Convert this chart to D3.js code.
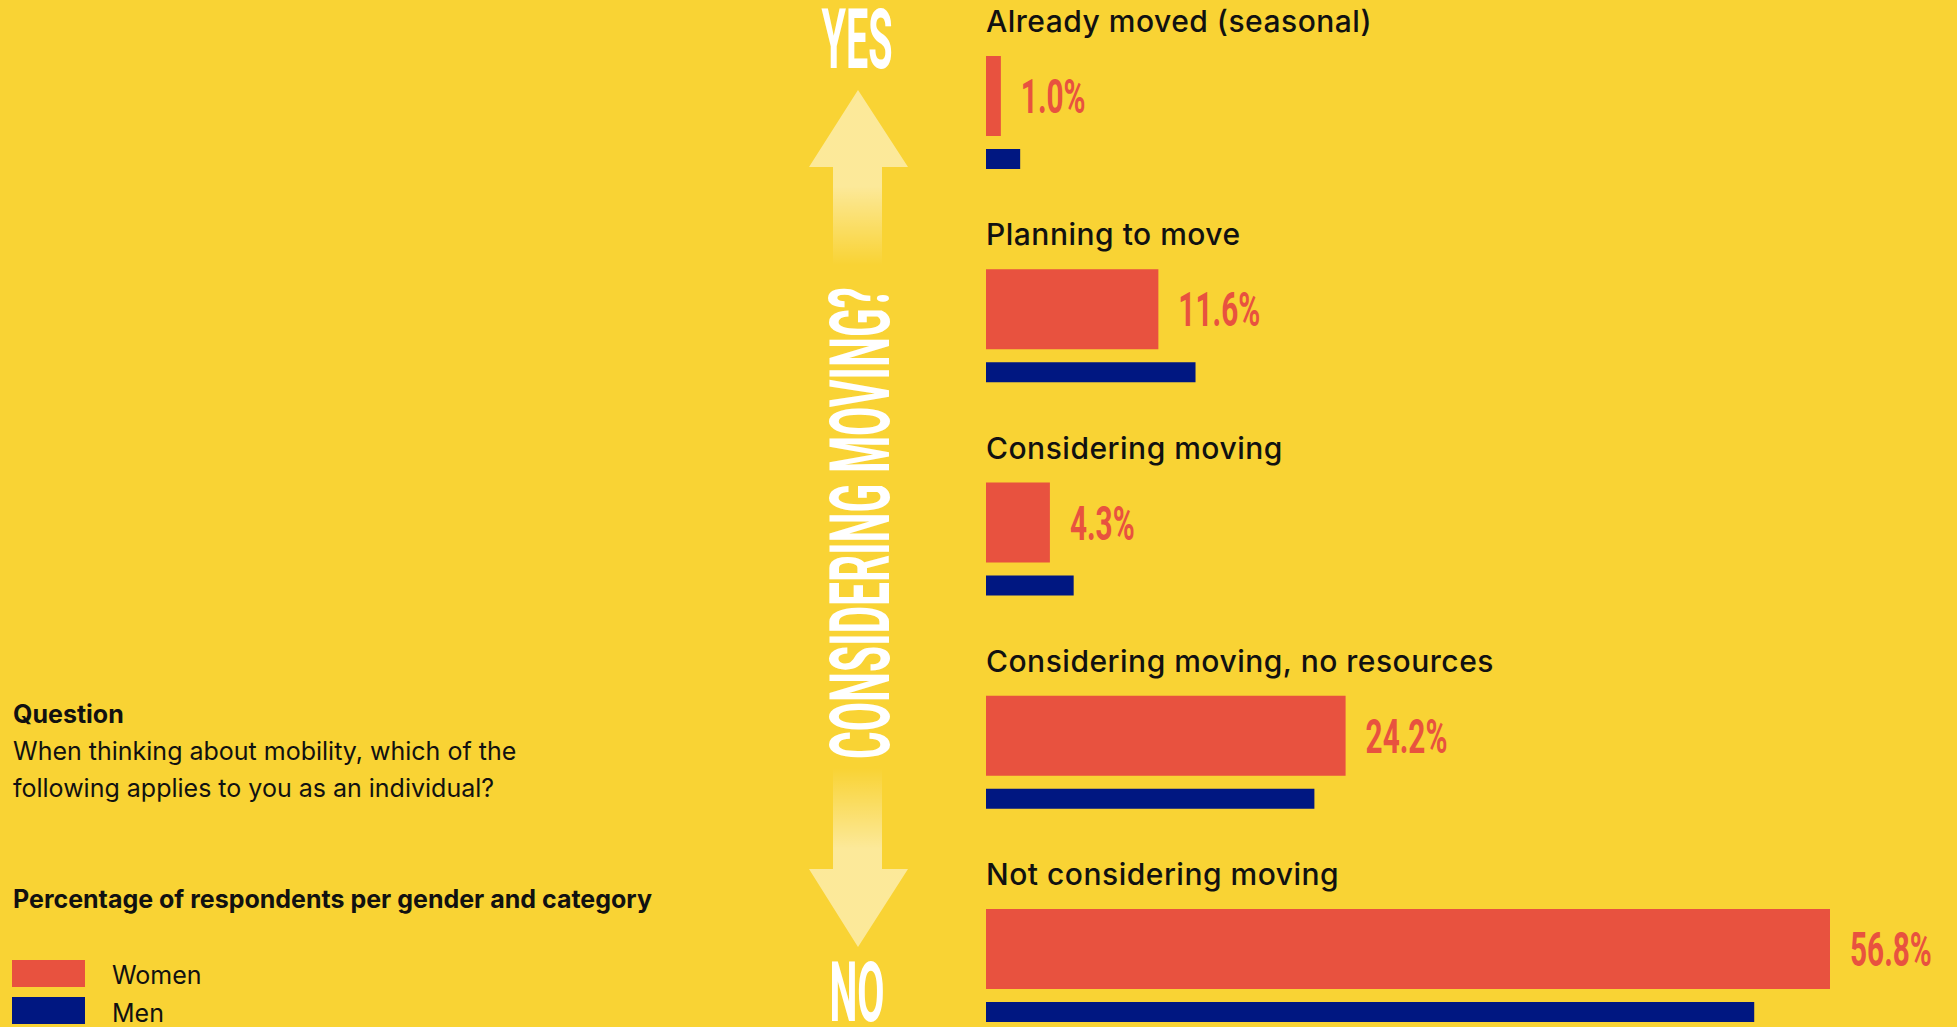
<!DOCTYPE html>
<html lang="en">
<head>
    <meta charset="UTF-8">
    <title>Considering moving?</title>
    <script src="https://d3js.org/d3.v7.min.js"></script>
    <style>
        body {
            margin: 0;
            background: #F9D334;
            font-family: Inter, "Noto Sans", sans-serif;
        }
        svg { display: block; }
        .cat { font-size: 30px; font-weight: 500; letter-spacing: 0.5px; fill: #111; }
        .val { font-family: Roboto, sans-serif; font-weight: 700; font-size: 48px; fill: #E8523F; }
        .big { font-family: Roboto, sans-serif; font-weight: 700; font-size: 84px; fill: #fff; }
        .note { font-size: 25px; fill: #111; }
    </style>
</head>
<body>
    <div id="container"></div>

    <script>
        //data
        const categories = ['Already moved (seasonal)', 'Planning to move', 'Considering moving',
            'Considering moving, no resources', 'Not considering moving'];
        const women = [1.0, 11.6, 4.3, 24.2, 56.8];
        const men = [2.3, 14.1, 5.9, 22.1, 51.7];
        const series = ['Women', 'Men'];
        const colors = ['#E8523F', '#001781'];
        const questionLines = ['When thinking about mobility, which of the',
            'following applies to you as an individual?'];

        const W = 1957, H = 1027;
        const svg = d3.select('#container').append('svg')
            .attr('width', W).attr('height', H);

        // scales
        const x = d3.scaleLinear().domain([0, 56.8]).range([986, 1830]);
        const y = d3.scaleBand().domain(categories).range([56, 56 + 5 * 213.25]);
        const color = d3.scaleOrdinal().domain(series).range(colors);

        const rows = categories.map((c, i) => ({cat: c, women: women[i], men: men[i]}));

        const g = svg.selectAll('g.row')
            .data(rows)
            .enter().append('g').attr('class', 'row');

        g.append('text').attr('class', 'cat')
            .attr('x', x(0)).attr('y', d => y(d.cat) - 24)
            .text(d => d.cat);

        g.append('rect')
            .attr('x', x(0)).attr('y', d => y(d.cat))
            .attr('width', d => x(d.women) - x(0)).attr('height', 80)
            .attr('fill', color('Women'));

        g.append('rect')
            .attr('x', x(0)).attr('y', d => y(d.cat) + 93)
            .attr('width', d => x(d.men) - x(0)).attr('height', 20)
            .attr('fill', color('Men'));

        // value labels, squeezed to look like a condensed face
        g.append('text').attr('class', 'val')
            .attr('transform', d => `translate(${x(d.women) + 20},${y(d.cat) + 57}) scale(0.62,1)`)
            .text(d => d.women.toFixed(1) + '%');

        // arrows
        const defs = svg.append('defs');
        function grad(id, y1, y2, offs) {
            const lg = defs.append('linearGradient').attr('id', id)
                .attr('gradientUnits', 'userSpaceOnUse')
                .attr('x1', 0).attr('x2', 0).attr('y1', y1).attr('y2', y2);
            offs.forEach(o => lg.append('stop').attr('offset', o[0])
                .attr('stop-color', '#fff').attr('stop-opacity', o[1]));
        }
        grad('upGrad', 90, 265, [[0, 0.5], [0.55, 0.5], [1, 0]]);
        grad('downGrad', 947, 768, [[0, 0.5], [0.55, 0.5], [1, 0]]);

        svg.append('path')
            .attr('d', 'M858,90 L908,167 L882,167 L882,265 L833,265 L833,167 L809,167 Z')
            .attr('fill', 'url(#upGrad)');
        svg.append('path')
            .attr('d', 'M858,947 L908,869 L882,869 L882,768 L833,768 L833,869 L809,869 Z')
            .attr('fill', 'url(#downGrad)');

        svg.append('text').attr('class', 'big')
            .attr('text-anchor', 'middle')
            .attr('transform', 'translate(857,68) scale(0.47,1)')
            .text('YES');
        svg.append('text').attr('class', 'big')
            .attr('text-anchor', 'middle')
            .attr('transform', 'translate(857,1021) scale(0.47,1)')
            .text('NO');
        svg.append('text').attr('class', 'big')
            .attr('text-anchor', 'middle')
            .attr('transform', 'translate(889,523) rotate(-90) scale(0.505,1)')
            .text('CONSIDERING MOVING?');

        // question + legend
        svg.append('text').attr('class', 'note').attr('font-weight', 700)
            .attr('x', 13).attr('y', 723).text('Question');
        svg.selectAll('text.q')
            .data(questionLines)
            .enter().append('text').attr('class', 'note q')
            .attr('x', 13).attr('y', (d, i) => 760 + i * 37)
            .text(d => d);
        svg.append('text').attr('class', 'note').attr('font-weight', 700)
            .attr('x', 13).attr('y', 908).text('Percentage of respondents per gender and category');

        const lg = svg.selectAll('g.legend')
            .data(series)
            .enter().append('g').attr('class', 'legend');
        lg.append('rect')
            .attr('x', 12).attr('y', (d, i) => 960 + i * 37)
            .attr('width', 73).attr('height', 27)
            .attr('fill', d => color(d));
        lg.append('text').attr('class', 'note')
            .attr('x', 112).attr('y', (d, i) => 984 + i * 38)
            .text(d => d);
    </script>
</body>
</html>
